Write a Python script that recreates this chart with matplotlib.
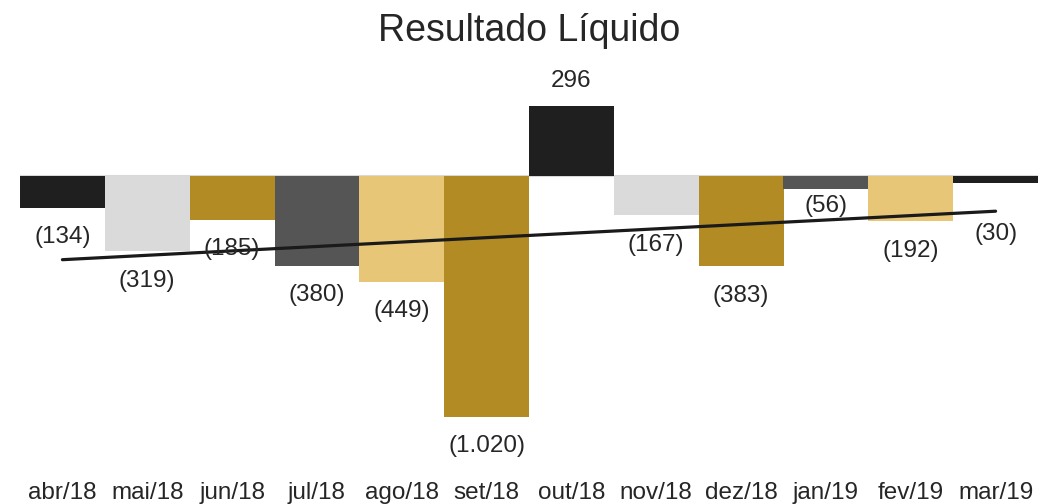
import numpy as np
import matplotlib
matplotlib.use("Agg")
import matplotlib.pyplot as plt

# dados (R$ mil)
meses = ["abr/18", "mai/18", "jun/18", "jul/18", "ago/18", "set/18",
         "out/18", "nov/18", "dez/18", "jan/19", "fev/19", "mar/19"]
resultado = [-134, -319, -185, -380, -449, -1020, 296, -167, -383, -56, -192, -30]

cores = ["#1f1f1f", "#dadada", "#b38b24", "#555555", "#e8c677", "#b38b24",
         "#1f1f1f", "#dadada", "#b38b24", "#555555", "#e8c677", "#1f1f1f"]

# ajustes finos de posicao dos rotulos (em pontos)
ajuste_rotulo = {9: 9, 11: -16}

plt.rcParams["font.family"] = ["Liberation Sans", "DejaVu Sans"]
texto = "#262626"


def formata(v):
    s = f"{abs(v):,}".replace(",", ".")
    return f"({s})" if v < 0 else s


fig = plt.figure(figsize=(10.38, 5.04), dpi=100)
ax = fig.add_axes([20 / 1038, 44 / 504, 1 - 20 / 1038, 400 / 504])

x = np.arange(len(meses))
ax.axhline(0, color="#d9d9d9", lw=1.5, zorder=0)
ax.bar(x, resultado, width=1.0, color=cores, zorder=2)

# linha de tendencia linear
a, b = np.polyfit(x, resultado, 1)
ax.plot([x[0], x[-1]], [a * x[0] + b, a * x[-1] + b], color="#1a1a1a",
        lw=2.3, solid_capstyle="round", zorder=3)

for i, v in enumerate(resultado):
    if v < 0:
        off = -21 + ajuste_rotulo.get(i, 0)
    else:
        off = 18
    ax.annotate(formata(v), (i, v), xytext=(0, off), textcoords="offset points",
                ha="center", va="center", fontsize=17.5, color=texto, zorder=4)

ax.set_xlim(-0.5, len(meses) - 0.5)
ax.set_ylim(-1202, 491)
ax.set_xticks(x)
ax.set_xticklabels(meses, fontsize=17.5, color=texto)
ax.tick_params(axis="x", length=0, pad=16)
ax.set_yticks([])
for sp in ax.spines.values():
    sp.set_visible(False)

ax.set_title("Resultado Líquido", fontsize=27, color=texto, pad=14)

fig.savefig("out.png", dpi=100)
